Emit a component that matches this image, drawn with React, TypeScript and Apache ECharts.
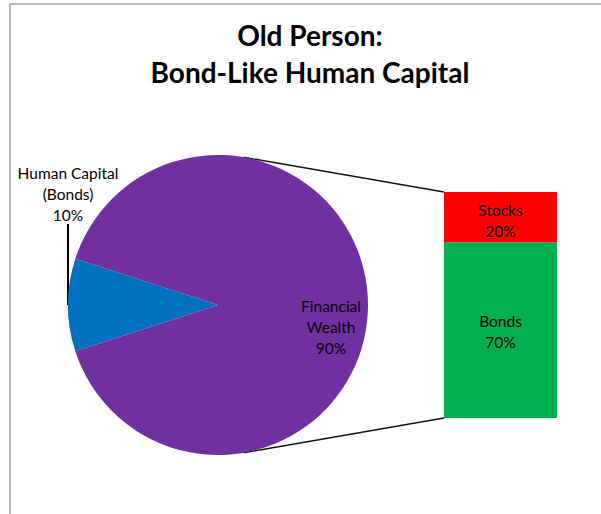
import React, { useEffect, useRef } from 'react';
import * as echarts from 'echarts';

const titleLines = ['Old Person:', 'Bond-Like Human Capital'];
const pieNames = ['Human Capital\n(Bonds)', 'Financial\nWealth'];
const pieValues = [10, 90];
const pieColors = ['#0070C0', '#7030A0'];
const barCategory = ['Financial Wealth'];
const barNames = ['Bonds', 'Stocks'];
const barValues = [70, 20];
const barColors = ['#00B050', '#FF0000'];

const FONT = 'Lato, "Noto Sans", sans-serif';
const CX = 218;
const CY = 305;
const R = 150;
const GRID = { left: 444, top: 192, width: 113, height: 226 };

function tangentPoint(px: number, py: number, sign: number): [number, number] {
  const dx = px - CX;
  const dy = py - CY;
  const d = Math.sqrt(dx * dx + dy * dy);
  const theta = Math.atan2(dy, dx);
  const alpha = Math.acos(R / d);
  const a = theta + sign * alpha;
  return [CX + R * Math.cos(a), CY + R * Math.sin(a)];
}

export default function App() {
  const ref = useRef<HTMLDivElement>(null);
  useEffect(() => {
    document.body.style.margin = '0';
    if (!ref.current) return;
    const chart = echarts.init(ref.current, null, { renderer: 'svg' });
    const total = pieValues.reduce((a, b) => a + b, 0);
    const startAngle = 180 + ((pieValues[0] / total) * 360) / 2;
    const topCorner: [number, number] = [GRID.left, GRID.top];
    const botCorner: [number, number] = [GRID.left, GRID.top + GRID.height];
    const tTop = tangentPoint(topCorner[0], topCorner[1], -1);
    const tBot = tangentPoint(botCorner[0], botCorner[1], 1);
    const labelStyle = {
      color: '#000',
      fontFamily: FONT,
      fontSize: 15.5,
      lineHeight: 21,
    };
    chart.setOption({
      animation: false,
      backgroundColor: '#fff',
      title: {
        text: titleLines.join('\n'),
        left: 305,
        top: 11,
        textAlign: 'center',
        textStyle: {
          fontFamily: FONT,
          fontWeight: 'bold',
          fontSize: 28,
          lineHeight: 37,
          color: '#000',
        },
      },
      grid: { ...GRID },
      xAxis: { type: 'category', data: barCategory, show: false },
      yAxis: { type: 'value', min: 0, max: total - pieValues[0], show: false },
      graphic: [
        {
          type: 'rect',
          z: -10,
          shape: { x: 10, y: 4, width: 800, height: 800 },
          style: { fill: 'none', stroke: '#a0a0a0', lineWidth: 1.5 },
        },
        {
          type: 'line',
          shape: { x1: tTop[0], y1: tTop[1], x2: topCorner[0], y2: topCorner[1] },
          style: { stroke: '#111', lineWidth: 1.3 },
        },
        {
          type: 'line',
          shape: { x1: tBot[0], y1: tBot[1], x2: botCorner[0], y2: botCorner[1] },
          style: { stroke: '#111', lineWidth: 1.3 },
        },
      ],
      series: [
        {
          type: 'pie',
          center: [CX, CY],
          radius: R,
          startAngle,
          clockwise: true,
          avoidLabelOverlap: false,
          emphasis: { disabled: true },
          data: pieNames.map((n, i) => ({
            name: n,
            value: pieValues[i],
            itemStyle: { color: pieColors[i] },
            label:
              i === 0
                ? { show: true, position: 'outside', ...labelStyle, formatter: '{b}\n{d}%' }
                : { show: true, position: 'inside', ...labelStyle, formatter: '{b}\n{d}%', offset: [35, 22] },
            labelLine:
              i === 0
                ? { show: true, lineStyle: { color: '#000', width: 2 } }
                : { show: false },
          })),
          labelLayout: (params: any) => {
            if (params.dataIndex === 0) {
              return {
                x: 68,
                y: 194,
                align: 'center',
                verticalAlign: 'middle',
                labelLinePoints: [
                  [CX - R, CY],
                  [CX - R, CY - 40],
                  [CX - R, 224],
                ],
              };
            }
            return {};
          },
        },
        ...barNames.map((n, i) => ({
          type: 'bar',
          name: n,
          stack: 'fw',
          barWidth: '100%',
          data: [barValues[i]],
          itemStyle: { color: barColors[i] },
          emphasis: { disabled: true },
          label: {
            show: true,
            position: 'inside',
            ...labelStyle,
            formatter: '{a}\n{c}%',
            offset: [0, i === 1 ? 3 : 1],
          },
        })),
      ],
    });
    return () => chart.dispose();
  }, []);
  return <div ref={ref} style={{ width: 601, height: 514 }} />;
}
